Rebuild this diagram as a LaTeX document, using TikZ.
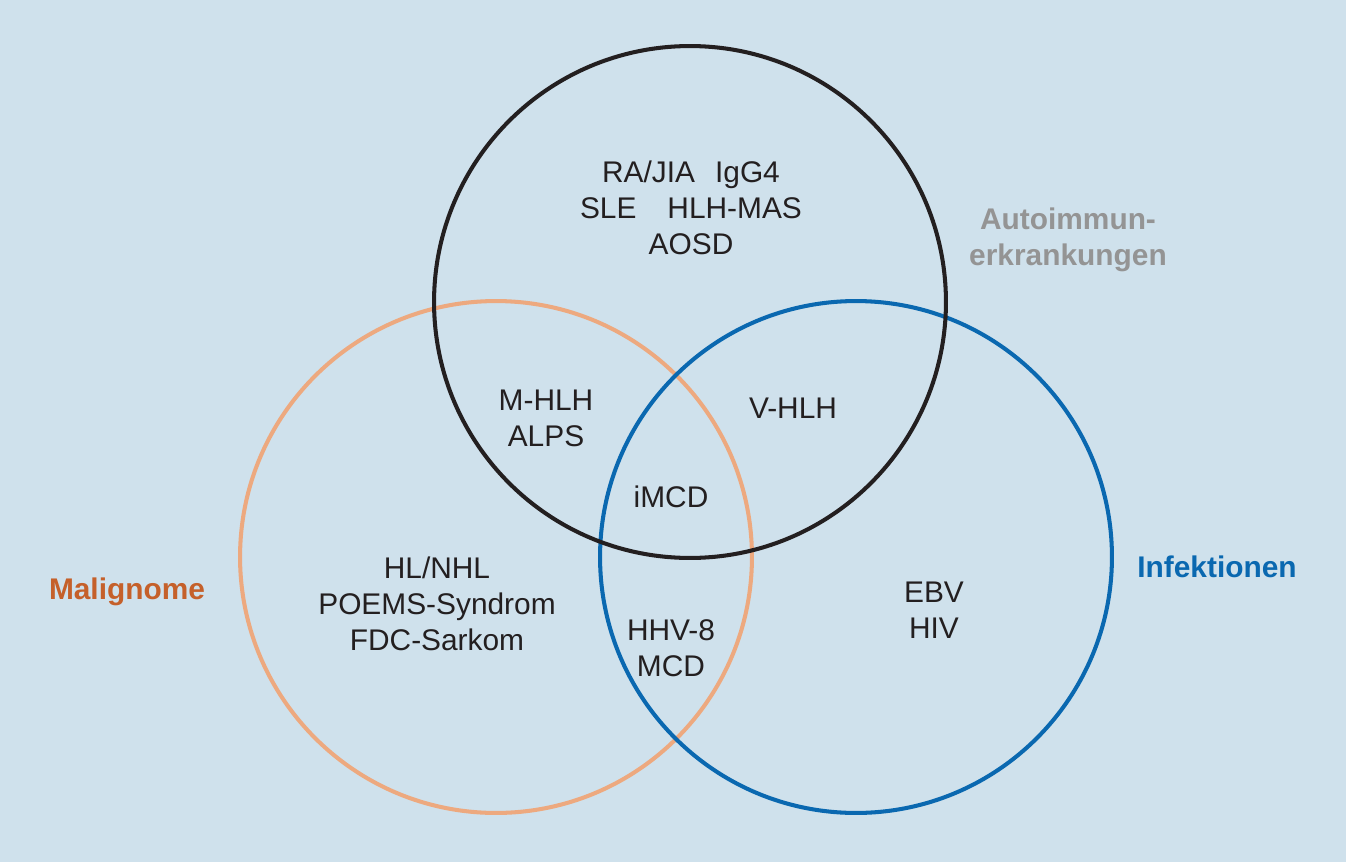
\documentclass[tikz,border=0pt]{standalone}
\usepackage{fontspec}
\setmainfont{Liberation Sans}
\usepackage{tikz}
\usetikzlibrary{positioning}
\usepackage{xcolor}
\definecolor{bgblue}{HTML}{CFE1EC}
\definecolor{malcol}{HTML}{EDA97F}
\definecolor{maltext}{HTML}{C5602A}
\definecolor{infcol}{HTML}{0A68B0}
\definecolor{autocol}{HTML}{231F20}
\definecolor{autotext}{HTML}{949494}
\definecolor{txt}{HTML}{231F20}

\begin{document}
\begin{tikzpicture}[
    x=0.02cm, y=-0.02cm,
    venn/.style={circle, draw=#1, line width=2.3pt, minimum size=10.24cm, inner sep=0pt},
    item/.style={font=\fontsize{17}{20.5}\selectfont, text=txt, align=center},
    lbl/.style={font=\fontsize{17}{20.5}\selectfont\bfseries, text=#1, align=center}
]

% background
\fill[bgblue] (0,0) rectangle (1346,862);
\useasboundingbox (0,0) rectangle (1346,862);

\node[venn=malcol] (mal) at (496,557) {};
\node[venn=infcol] (inf) at (856,557) {};
\node[venn=autocol] (auto) at (690,302) {};

% Circle labels
\node[lbl=autotext] (autolbl) at (1068,240) {Autoimmun-\\erkrankungen};
\node[lbl=maltext] (mallbl) at (127,592) {Malignome};
\node[lbl=infcol] (inflbl) at (1217,567) {Infektionen};

% Entries
\node[item] (top) at (691,208) {RA/JIA\hspace{0.4cm}IgG4\\SLE\hspace{0.62cm}HLH-MAS\\AOSD};
\node[item] (malo) at (437,604) {HL/NHL\\POEMS-Syndrom\\FDC-Sarkom};
\node[item] (mhlh) at (546,418) {M-HLH\\ALPS};
\node[item] (vhlh) at (793,408) {V-HLH};
\node[item] (imcd) at (671,497) {iMCD};
\node[item] (hhv) at (671,648) {HHV-8\\MCD};
\node[item] (ebv) at (934,610) {EBV\\HIV};

\end{tikzpicture}
\end{document}
